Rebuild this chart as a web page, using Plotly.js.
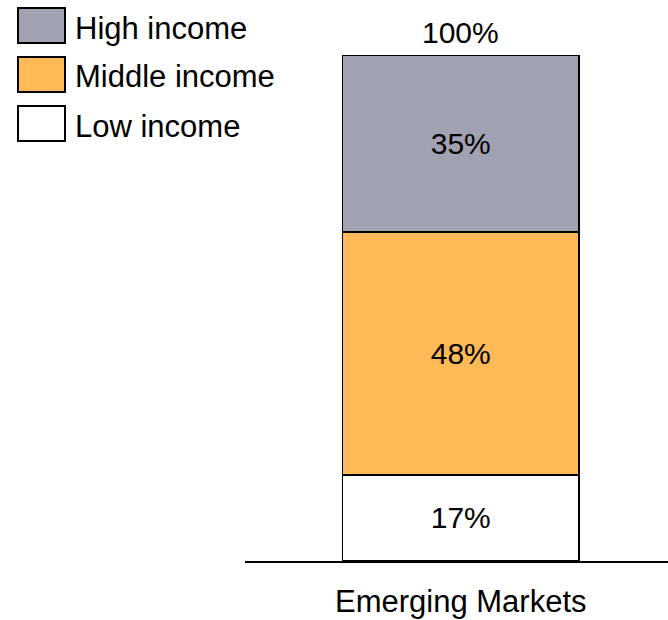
<!DOCTYPE html>
<html><head><meta charset="utf-8">
<script src="https://cdn.plot.ly/plotly-3.0.1.min.js"></script>
<style>html,body{margin:0;padding:0;background:#fff}</style>
</head><body>
<div id="chart" style="width:668px;height:620px"></div>
<script>
const categories = ["Emerging Markets"];
const seriesNames = ["Low income", "Middle income", "High income"];
const lowIncome = [17];
const middleIncome = [48];
const highIncome = [35];
const seriesColors = ["#FFFFFF", "#FFB957", "#A0A2B2"];

const W = 668, H = 620;
const FONT = "Liberation Sans, Arial, Helvetica, sans-serif";
const FS = 30;
const FS_LEG = 31;
const px = x => x / W;
const py = y => 1 - y / H;

const seriesValues = [lowIncome, middleIncome, highIncome];
const traces = seriesValues.map((vals, i) => ({
  type: "bar",
  name: seriesNames[i],
  x: categories,
  y: vals,
  width: 0.56,
  marker: { color: seriesColors[i], line: { color: "#000", width: 1.5 } },
  texttemplate: "%{y}%",
  textposition: "inside",
  insidetextanchor: "middle",
  constraintext: "none",
  textfont: { family: FONT, size: FS, color: "#000" },
  hoverinfo: "skip",
  showlegend: false
}));

const totals = categories.map((c, j) => seriesValues.reduce((s, v) => s + v[j], 0));

const annotations = categories.map((c, j) => ({
  x: c, y: totals[j], xref: "x", yref: "y",
  text: totals[j] + "%", showarrow: false,
  yanchor: "bottom", yshift: 4,
  font: { family: FONT, size: FS, color: "#000" }
}));

const shapes = [];
// custom legend, top to bottom: High, Middle, Low
const legendOrder = [2, 1, 0];
legendOrder.forEach((si, k) => {
  const cy = 25.5 + k * 49;
  shapes.push({
    type: "rect", xref: "paper", yref: "paper",
    x0: px(18), x1: px(65), y0: py(cy + 17.5), y1: py(cy - 17.5),
    fillcolor: seriesColors[si], line: { color: "#000", width: 2 }
  });
  annotations.push({
    xref: "paper", yref: "paper", x: px(73), y: py(cy + 2.5),
    xanchor: "left", yanchor: "middle", showarrow: false,
    text: seriesNames[si],
    font: { family: FONT, size: FS_LEG, color: "#000" }
  });
});

const layout = {
  width: W, height: H,
  margin: { l: 0, r: 0, t: 0, b: 0 },
  paper_bgcolor: "#fff", plot_bgcolor: "#fff",
  barmode: "stack",
  showlegend: false,
  xaxis: {
    domain: [245 / W, 1], range: [-0.51, 0.49],
    showline: true, linecolor: "#000", linewidth: 1.5,
    showgrid: false, zeroline: false, ticks: "",
    tickfont: { family: FONT, size: FS_LEG, color: "#000" },
    ticklabelstandoff: 12, fixedrange: true
  },
  yaxis: {
    domain: [59 / H, 565 / H], range: [0, 100],
    visible: false, fixedrange: true
  },
  annotations: annotations,
  shapes: shapes,
  font: { family: FONT, color: "#000" }
};

Plotly.newPlot("chart", traces, layout, { staticPlot: true, displayModeBar: false });
</script>
</body></html>
